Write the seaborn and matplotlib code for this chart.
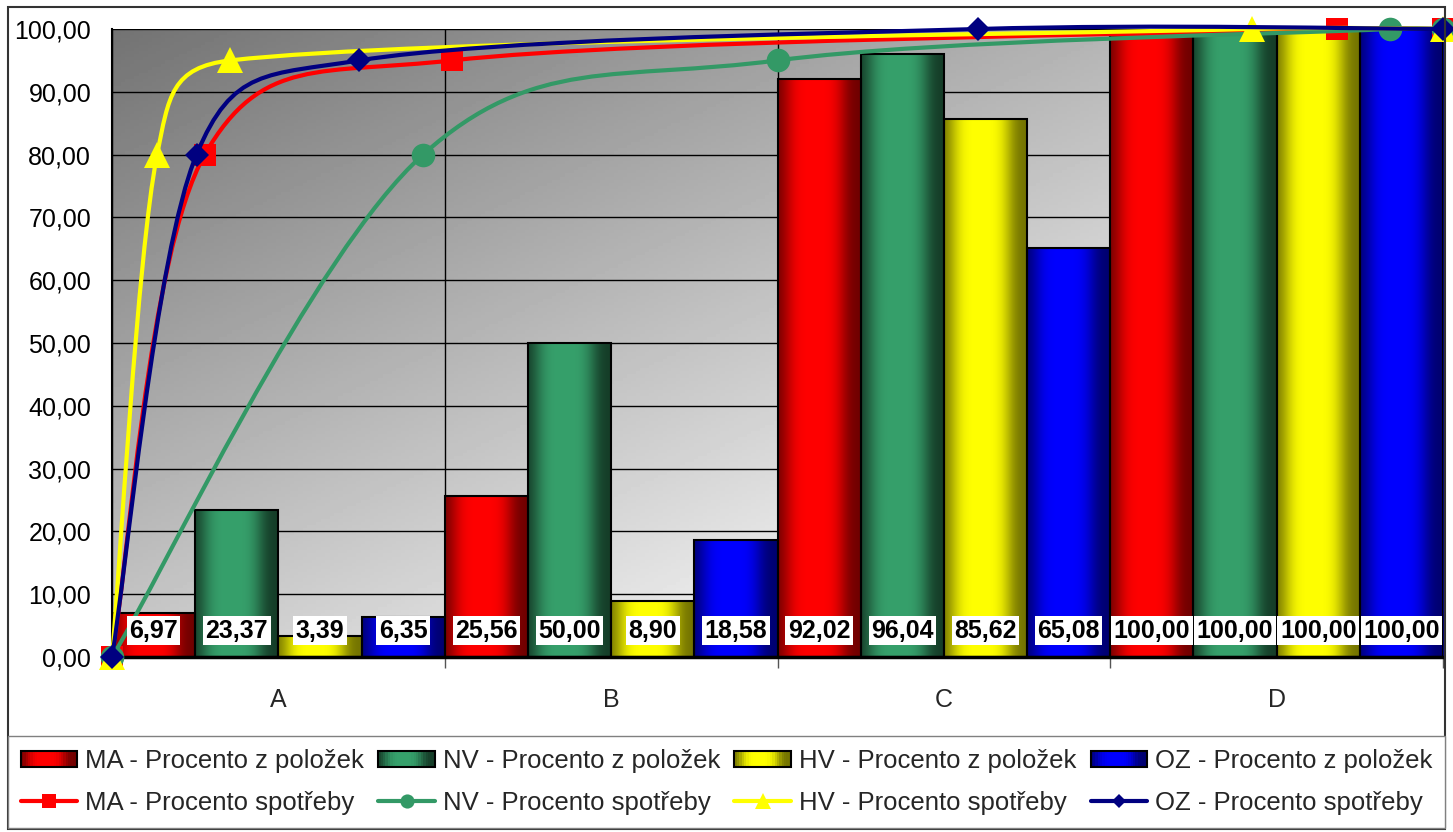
import numpy as np
import pandas as pd
import matplotlib
matplotlib.use('Agg')
import matplotlib.pyplot as plt
import seaborn as sns
from matplotlib.path import Path
from matplotlib.patches import PathPatch, Rectangle
from matplotlib.lines import Line2D
from matplotlib.colors import to_rgb
from matplotlib.ticker import FixedLocator, FuncFormatter
from matplotlib.legend_handler import HandlerBase

# ---- data -------------------------------------------------------------
categories = ['A', 'B', 'C', 'D']
series     = ['MA', 'NV', 'HV', 'OZ']

ma_items = [6.97, 25.56, 92.02, 100.00]
nv_items = [23.37, 50.00, 96.04, 100.00]
hv_items = [3.39, 8.90, 85.62, 100.00]
oz_items = [6.35, 18.58, 65.08, 100.00]

# cumulative consumption reached at 0 and at the end of A, B, C, D
consumption = [0.0, 80.0, 95.0, 100.0, 100.0]

items = {'MA': ma_items, 'NV': nv_items, 'HV': hv_items, 'OZ': oz_items}

bar_label  = ' - Procento z položek'
line_label = ' - Procento spotřeby'

# ---- styles -----------------------------------------------------------
bar_shades = {
    'MA': ('#700000', '#ff0000'),
    'NV': ('#153d28', '#36a06b'),
    'HV': ('#747400', '#ffff00'),
    'OZ': ('#000070', '#0000ff'),
}
line_colors = {'MA': '#ff0000', 'NV': '#339966', 'HV': '#ffff00', 'OZ': '#000080'}
markers     = {'MA': ('s', 16.5), 'NV': ('o', 17), 'HV': ('^', 18.5), 'OZ': ('D', 12)}

sns.set_style('white')
plt.rcParams['font.family'] = ['Liberation Sans', 'DejaVu Sans']

df = pd.DataFrame([
    {'kat': c, 'serie': s, 'hodnota': items[s][i]}
    for s in series for i, c in enumerate(categories)
])

W, H = 1453, 832
fig = plt.figure(figsize=(W / 100, H / 100), dpi=100)
ax = fig.add_axes([112 / W, (H - 657) / H, (1443 - 112) / W, (657 - 29) / H])

# gradient plot-area background
gu = np.linspace(0, 1, 300)
gw = np.linspace(0, 1, 200)
U, Wg = np.meshgrid(gu, gw)
bg = np.clip(0.45 + 0.34 * (U + Wg), 0, 0.95)
ax.imshow(bg, extent=[0, 1, 0, 1], transform=ax.transAxes, cmap='gray',
          vmin=0, vmax=1, aspect='auto', origin='upper', zorder=0)

sns.barplot(data=df, x='kat', y='hodnota', hue='serie', order=categories,
            hue_order=series, palette={s: bar_shades[s][1] for s in series},
            width=1.0, gap=0, saturation=1, edgecolor='black', linewidth=1.5,
            legend=False, ax=ax)

# horizontal shading on each bar (dark edges, bright middle)
u = np.linspace(0, 1, 256)
prof = np.exp(-((u - 0.44) / 0.36) ** 4)


def shade(s, prof):
    dark, bright = (np.array(to_rgb(c)) for c in bar_shades[s])
    return dark + (bright - dark) * prof[:, None]


for s, cont in zip(series, ax.containers):
    img = shade(s, prof)[None, :, :]
    for bar in cont:
        x0, w, h = bar.get_x(), bar.get_width(), bar.get_height()
        im = ax.imshow(img, extent=[x0, x0 + w, 0, h], aspect='auto',
                       interpolation='bilinear', zorder=1.5)
        im.set_clip_path(bar)
        bar.set_facecolor('none')
        bar.set_zorder(2)

ax.set_xlim(-0.5, 3.5)
ax.set_ylim(0, 100)
ax.set_xlabel('')
ax.set_ylabel('')
ax.set_yticks(np.arange(0, 101, 10))
ax.yaxis.set_major_formatter(FuncFormatter(lambda v, p: f'{v:.2f}'.replace('.', ',')))
ax.tick_params(axis='y', length=7, width=1, pad=8, labelsize=18, colors='black')
ax.tick_params(axis='x', which='major', length=0, pad=22, labelsize=18)
ax.xaxis.set_minor_locator(FixedLocator([-0.5, 0.5, 1.5, 2.5, 3.5]))
ax.tick_params(axis='x', which='minor', length=8, width=1, color='#555555')
ax.set_axisbelow(True)
ax.grid(axis='y', which='major', color='black', lw=1)
ax.grid(axis='x', which='minor', color='black', lw=1)
ax.grid(axis='x', which='major', visible=False)
for sp in ['top', 'right']:
    ax.spines[sp].set_visible(False)
ax.spines['left'].set_color('black')
ax.spines['left'].set_linewidth(1.5)
ax.spines['bottom'].set_color('black')
ax.spines['bottom'].set_linewidth(2.5)

# secondary x axis: percent of items 0..100
ax2 = ax.twiny()
ax2.set_xlim(0, 100)
ax2.set_ylim(0, 100)
ax2.set_xticks([])
for sp in ax2.spines.values():
    sp.set_visible(False)

sx = (1443 - 112) / 100.0
sy = (657 - 29) / 100.0


def smooth_path(xs, ys):
    # Excel-like smoothed line: cubic Bezier segments through the points
    P = np.column_stack([np.asarray(xs) * sx, np.asarray(ys) * sy])
    n = len(P)
    verts = [P[0]]
    codes = [Path.MOVETO]
    for i in range(n - 1):
        p0, p1 = P[max(i - 1, 0)], P[i]
        p2, p3 = P[i + 1], P[min(i + 2, n - 1)]
        lim = np.linalg.norm(p2 - p1) / 2
        h1 = (p2 - p0) / 6
        h2 = (p3 - p1) / 6
        if np.linalg.norm(h1) > lim:
            h1 = h1 / np.linalg.norm(h1) * lim
        if np.linalg.norm(h2) > lim:
            h2 = h2 / np.linalg.norm(h2) * lim
        verts += [p1 + h1, p2 - h2, p2]
        codes += [Path.CURVE4] * 3
    verts = np.array(verts) / [sx, sy]
    return Path(verts, codes)


z = 3
for s in series:
    xs = [0.0] + items[s]
    ax2.add_patch(PathPatch(smooth_path(xs, consumption), facecolor='none',
                            edgecolor=line_colors[s], lw=3, capstyle='round',
                            joinstyle='round', clip_on=False, zorder=z))
    m, ms = markers[s]
    ax2.plot(xs, consumption, linestyle='none', marker=m, ms=ms,
             color=line_colors[s], mew=0, clip_on=False, zorder=z + 0.1)
    z += 0.2

# value labels at the bottom of the bars
for s, cont in zip(series, ax.containers):
    for bar, v in zip(cont, items[s]):
        ax2.text(bar.get_x() + bar.get_width() / 2, 4.2, f'{v:.2f}'.replace('.', ','),
                 transform=ax.transData, ha='center', va='center', fontsize=18,
                 fontweight='bold', color='black', zorder=6,
                 bbox=dict(boxstyle='square,pad=0.1', fc='white', ec='none'))


# legend: shaded box for the bar series
class ShadedBox(HandlerBase):
    def __init__(self, key):
        super().__init__()
        self.key = key

    def create_artists(self, legend, orig_handle, xdescent, ydescent,
                       width, height, fontsize, trans):
        n = 24
        cols = shade(self.key, np.exp(-((np.linspace(0, 1, n) - 0.44) / 0.36) ** 4))
        arts = []
        for i in range(n):
            arts.append(Rectangle((-xdescent + width * i / n, -ydescent), width / n + 0.3,
                                  height, facecolor=cols[i], edgecolor='none',
                                  transform=trans))
        arts.append(Rectangle((-xdescent, -ydescent), width, height, facecolor='none',
                              edgecolor='black', lw=1.5, transform=trans))
        return arts


handles, labels, hmap = [], [], {}
for s in series:
    bh = Rectangle((0, 0), 1, 1, facecolor=bar_shades[s][1], edgecolor='black')
    handles.append(bh)
    hmap[bh] = ShadedBox(s)
    labels.append(s + bar_label)
    m, ms = markers[s]
    handles.append(Line2D([], [], color=line_colors[s], lw=3, marker=m, ms=ms * 0.6, mew=0))
    labels.append(s + line_label)

fig.legend(handles, labels, ncol=4, loc='center', mode='expand', handler_map=hmap,
           bbox_to_anchor=(8 / W, (H - 827) / H, (1445 - 8) / W, 90 / H),
           fontsize=18.5, handlelength=2.2, handleheight=0.6, handletextpad=0.3,
           columnspacing=0.2, labelspacing=0.7, borderpad=0.5, borderaxespad=0,
           frameon=True, fancybox=False, edgecolor='#808080', framealpha=1)

# chart border
fig.add_artist(Rectangle((8 / W, 3 / H), (1445 - 8) / W, 822 / H,
                         transform=fig.transFigure, fill=False,
                         edgecolor='#333333', lw=1.5))

fig.savefig('out.png', dpi=100)
